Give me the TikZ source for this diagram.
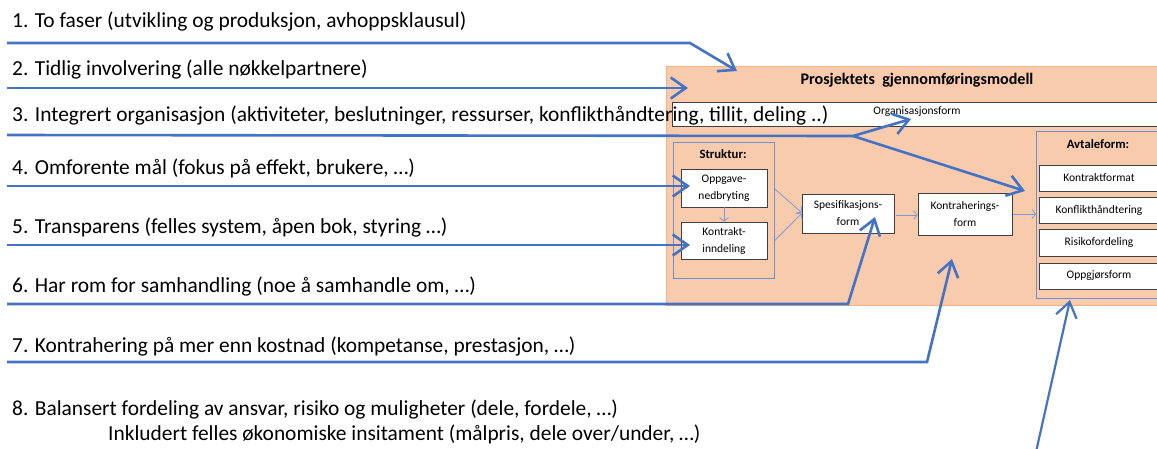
\documentclass[tikz,border=0pt]{standalone}
\usepackage{fontspec}
\setmainfont{Carlito}
\usetikzlibrary{arrows.meta,calc}
\definecolor{orfill}{HTML}{F8CBAD}
\definecolor{oredge}{HTML}{F4B183}
\definecolor{bigblue}{HTML}{4472C4}
\definecolor{thinblue}{HTML}{7C9BD6}
\definecolor{grpblue}{HTML}{6F8FD0}

\begin{document}
\begin{tikzpicture}[x=1pt,y=-1pt,
  lbl/.style={anchor=west, inner sep=0pt, font=\fontsize{21.4}{24}\selectfont},
  box/.style={draw=black!75, fill=white, line width=0.8pt, inner sep=0pt,
    align=center, font=\fontsize{11.5}{17}\selectfont},
  grp/.style={draw=grpblue, line width=0.8pt},
  head/.style={inner sep=0pt, font=\bfseries\fontsize{12.7}{14}\selectfont},
  feed/.style={draw=bigblue, line width=2.6pt, line join=miter,
    -{Straight Barb[length=15pt,width=21pt]}},
  flow/.style={draw=thinblue, line width=0.8pt, -{Straight Barb[length=3.5pt,width=9pt]}},
]
\useasboundingbox (0,0) rectangle (1157,448);

% model frame
\node[draw=oredge, fill=orfill, line width=1pt, inner sep=0pt, anchor=north west,
  minimum width=520pt, minimum height=239pt] (model) at (666,66) {};
\node[font=\bfseries\fontsize{16.1}{18}\selectfont, inner sep=0pt] (title) at (917,80)
  {Prosjektets\ \ gjennomføringsmodell};

% organisation band
\node[box, anchor=north west, minimum width=520pt, minimum height=24pt] (org) at (672,102) {};
\node[inner sep=0pt, font=\fontsize{11.5}{13}\selectfont] (orglbl) at (917,112) {Organisasjonsform};

% structure group
\node[grp, anchor=north west, minimum width=101pt, minimum height=136pt, inner sep=0pt] (struk) at (673,142) {};
\node[head] (struklbl) at (723,154) {Struktur:};
\node[box, minimum width=86pt, minimum height=38pt] (opp) at (724,188) {Oppgave-\\nedbryting};
\node[box, minimum width=86pt, minimum height=37pt] (kinn) at (724,240.5) {Kontrakt-\\inndeling};

\node[box, minimum width=92pt, minimum height=39pt] (spes) at (848,213.5) {Spesifikasjons-\\form};
\node[box, minimum width=94pt, minimum height=42pt] (kform) at (965,214) {Kontraherings-\\form};

% agreement group
\node[grp, anchor=north west, minimum width=140pt, minimum height=167pt, inner sep=0pt] (avt) at (1036,131) {};
\node[head] (avtlbl) at (1098,144) {Avtaleform:};
\node[box, minimum width=120pt, minimum height=26pt] (kfmt) at (1099,178) {Kontraktformat};
\node[box, minimum width=120pt, minimum height=26pt] (konf) at (1099,210) {Konflikthåndtering};
\node[box, minimum width=120pt, minimum height=27pt] (risk) at (1099,242.5) {Risikofordeling};
\node[box, minimum width=120pt, minimum height=26pt] (oppg) at (1099,276) {Oppgjørsform};

% internal flow
\draw[flow] (opp.east -| struk.east) ++(0,1) -- ($(spes.west)+(0,-1)$);
\draw[flow] (kinn.east -| struk.east) -- (spes.west);
\draw[flow] (opp.south) -- (kinn.north);
\draw[flow] (spes.east) ++(2,1.5) -- ($(kform.west)+(0,1)$);
\draw[flow] (kform.east) ++(1,0) -- (kform.east -| avt.west);

% principles
\node[lbl] (p1) at (12,22) {1. To faser (utvikling og produksjon, avhoppsklausul)};
\node[lbl] (p2) at (12,70) {2. Tidlig involvering (alle nøkkelpartnere)};
\node[lbl] (p3) at (12,116) {3. Integrert organisasjon (aktiviteter, beslutninger, ressurser, konflikthåndtering, tillit, deling ..)};
\node[lbl] (p4) at (12,168) {4. Omforente mål (fokus på effekt, brukere, …)};
\node[lbl] (p5) at (12,228) {5. Transparens (felles system, åpen bok, styring …)};
\node[lbl] (p6) at (12,287) {6. Har rom for samhandling (noe å samhandle om, …)};
\node[lbl] (p7) at (12,347) {7. Kontrahering på mer enn kostnad (kompetanse, prestasjon, …)};
\node[lbl] (p8) at (12,410) {8. Balansert fordeling av ansvar, risiko og muligheter (dele, fordele, …)};
\node[lbl] (p8b) at (108,434) {Inkludert felles økonomiske insitament (målpris, dele over/under, …)};

% pointer ends
\coordinate (s1) at (7,43);   \coordinate (b1) at (690,43);  \coordinate (t1) at (737,71);
\coordinate (s2) at (7,88);   \coordinate (t2) at (688,88);
\coordinate (s3) at (7,135);  \coordinate (b3) at (853,136);
\coordinate (t3a) at (911,119); \coordinate (t3b) at (1025,191);
\coordinate (s4) at (7,186);  \coordinate (t4) at (690,186);
\coordinate (s5) at (7,245);  \coordinate (t5) at (690,245);
\coordinate (s6) at (7,304);  \coordinate (b6) at (848,304);  \coordinate (t6) at (875,217);
\coordinate (s7) at (7,362);  \coordinate (b7) at (927,362);  \coordinate (t7) at (952,259);
\coordinate (s8) at (1036,452); \coordinate (t8) at (1070,300);

\draw[feed] (s1) -- (b1) -- (t1);
\draw[feed] (s2) -- (t2);
\draw[feed] (s3) -- (b3) -- (t3a);
\draw[feed] (b3) -- (t3b);
\draw[feed] (s4) -- (t4);
\draw[feed] (s5) -- (t5);
\draw[feed] (s6) -- (b6) -- (t6);
\draw[feed] (s7) -- (b7) -- (t7);
\draw[feed, line width=2.2pt] (s8) -- (t8);
\end{tikzpicture}
\end{document}
